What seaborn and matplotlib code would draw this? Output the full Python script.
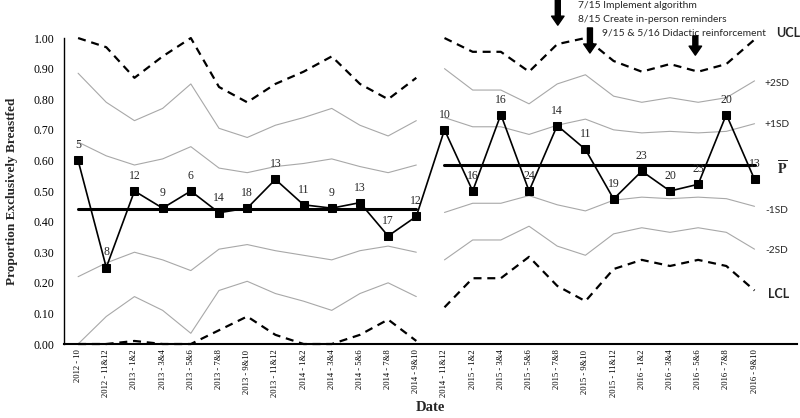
import numpy as np
import pandas as pd
import matplotlib
matplotlib.use("Agg")
import matplotlib.pyplot as plt
import seaborn as sns

# ---------------- data ----------------
categories = ["2012 - 10", "2012 - 11&12", "2013 - 1&2", "2013 - 3&4", "2013 - 5&6",
              "2013 - 7&8", "2013 - 9&10", "2013 - 11&12", "2014 - 1&2", "2014 - 3&4",
              "2014 - 5&6", "2014 - 7&8", "2014 - 9&10", "2014 - 11&12", "2015 - 1&2",
              "2015 - 3&4", "2015 - 5&6", "2015 - 7&8", "2015 - 9&10", "2015 - 11&12",
              "2016 - 1&2", "2016 - 3&4", "2016 - 5&6", "2016 - 7&8", "2016 - 9&10"]
sample_size = [5, 8, 12, 9, 6, 14, 18, 13, 11, 9, 13, 17, 12,
               10, 16, 16, 24, 14, 11, 19, 23, 20, 23, 20, 13]
proportion = [0.60, 0.25, 0.50, 0.444, 0.50, 0.429, 0.444, 0.538, 0.455, 0.444, 0.462, 0.353, 0.417,
              0.70, 0.50, 0.75, 0.50, 0.714, 0.636, 0.474, 0.565, 0.50, 0.522, 0.75, 0.538]

phase1_mean = 0.44
phase2_mean = 0.585

ucl_1 = [1.00, 0.97, 0.87, 0.94, 1.00, 0.84, 0.79, 0.85, 0.89, 0.94, 0.85, 0.80, 0.87]
p2sd_1 = [0.885, 0.79, 0.73, 0.77, 0.85, 0.705, 0.675, 0.715, 0.74, 0.77, 0.715, 0.68, 0.73]
p1sd_1 = [0.66, 0.615, 0.585, 0.605, 0.645, 0.575, 0.56, 0.58, 0.59, 0.605, 0.58, 0.56, 0.585]
m1sd_1 = [0.22, 0.265, 0.30, 0.275, 0.24, 0.31, 0.325, 0.305, 0.29, 0.275, 0.305, 0.32, 0.30]
m2sd_1 = [0.00, 0.09, 0.155, 0.11, 0.035, 0.175, 0.205, 0.165, 0.14, 0.11, 0.165, 0.20, 0.155]
lcl_1 = [0.00, 0.00, 0.01, 0.00, 0.00, 0.045, 0.09, 0.03, 0.00, 0.00, 0.03, 0.08, 0.01]

ucl_2 = [1.00, 0.955, 0.955, 0.89, 0.98, 1.00, 0.925, 0.89, 0.915, 0.89, 0.915, 0.995]
p2sd_2 = [0.90, 0.83, 0.83, 0.785, 0.85, 0.88, 0.81, 0.79, 0.805, 0.79, 0.805, 0.86]
p1sd_2 = [0.74, 0.71, 0.71, 0.685, 0.715, 0.735, 0.70, 0.69, 0.695, 0.69, 0.695, 0.72]
m1sd_2 = [0.43, 0.46, 0.46, 0.485, 0.455, 0.435, 0.47, 0.48, 0.475, 0.48, 0.475, 0.45]
m2sd_2 = [0.275, 0.34, 0.34, 0.385, 0.32, 0.29, 0.36, 0.38, 0.365, 0.38, 0.365, 0.31]
lcl_2 = [0.12, 0.215, 0.215, 0.285, 0.19, 0.14, 0.245, 0.275, 0.255, 0.275, 0.255, 0.175]

events = ["7/15 Implement algorithm", "8/15 Create in-person reminders",
          "9/15 & 5/16 Didactic reinforcement"]

# ---------------- style ----------------
sns.set_theme(style="white")
plt.rcParams["font.family"] = ["Liberation Serif", "DejaVu Serif"]
plt.rcParams["mathtext.fontset"] = "stix"

fig = plt.figure(figsize=(8, 4.18), dpi=100)
ax = fig.add_axes([0.08, 0.177, 0.916, 0.732])

pos = np.arange(len(categories))
n1 = len(ucl_1)
x1 = pos[:n1]
x2 = pos[n1:]

df_main = pd.DataFrame({"x": pos, "p": proportion, "n": sample_size})
df1 = pd.DataFrame({"x": x1, "ucl": ucl_1, "p2": p2sd_1, "p1": p1sd_1,
                    "m1": m1sd_1, "m2": m2sd_1, "lcl": lcl_1, "mean": phase1_mean})
df2 = pd.DataFrame({"x": x2, "ucl": ucl_2, "p2": p2sd_2, "p1": p1sd_2,
                    "m1": m1sd_2, "m2": m2sd_2, "lcl": lcl_2, "mean": phase2_mean})

gray = "#a8a8a8"
dash = (0, (3.6, 2.6))
for d in (df1, df2):
    for col in ("p2", "p1", "m1", "m2"):
        sns.lineplot(data=d, x="x", y=col, ax=ax, color=gray, lw=0.8, clip_on=False)
    for col in ("ucl", "lcl"):
        sns.lineplot(data=d, x="x", y=col, ax=ax, color="black", lw=1.6,
                     linestyle=dash, clip_on=False)
    sns.lineplot(data=d, x="x", y="mean", ax=ax, color="black", lw=2.2)

sns.lineplot(data=df_main, x="x", y="p", ax=ax, color="black", lw=1.2,
             marker="s", markersize=5.5, markeredgecolor="black", clip_on=False, zorder=5)

for xi, yi, ni in zip(df_main["x"], df_main["p"], df_main["n"]):
    ax.annotate(str(ni), (xi, yi), xytext=(0, 6.5), textcoords="offset points",
                ha="center", va="bottom", fontsize=8.5, zorder=6)

# ---------------- axes ----------------
ax.set_xlim(-0.5, len(categories) + 0.5)
ax.set_ylim(0, 1)
ax.set_yticks(np.arange(0, 1.01, 0.1))
ax.set_yticklabels([f"{v:.2f}" for v in np.arange(0, 1.01, 0.1)], fontsize=8.5)
ax.set_xticks(pos)
ax.set_xticklabels(categories, rotation=90, fontsize=6.2, va="top")
ax.set_xticks(np.arange(-0.5, len(categories) + 1), minor=True)
ax.tick_params(axis="x", which="major", length=0, pad=4)
ax.tick_params(axis="x", which="minor", length=4, width=1, direction="inout", color="black")
ax.tick_params(axis="y", which="major", length=4, width=1, direction="out", color="black", pad=3)
ax.tick_params(axis="both", colors="black")

for s in ("top", "right"):
    ax.spines[s].set_visible(False)
ax.spines["left"].set_linewidth(1.0)
ax.spines["left"].set_color("black")
ax.spines["bottom"].set_linewidth(1.5)
ax.spines["bottom"].set_color("black")

ax.set_ylabel("Proportion Exclusively Breastfed", fontsize=9.5, fontweight="bold")
ax.yaxis.set_label_coords(-0.063, 0.5)
ax.set_xlabel("Date", fontsize=10.5, fontweight="bold")
ax.xaxis.set_label_coords(0.5, -0.185)

# ---------------- right-side labels ----------------
sans = ["Lato", "DejaVu Sans"]
ax.text(25.2, 1.016, "UCL", ha="center", va="center", fontsize=9, fontweight="bold", family=sans)
ax.text(24.8, 0.853, "+2SD", ha="center", va="center", fontsize=7.3, family=sans)
ax.text(24.8, 0.719, "+1SD", ha="center", va="center", fontsize=7.3, family=sans)
ax.text(25.0, 0.575, r"$\mathbf{\overline{P}}$", ha="center", va="center", fontsize=10)
ax.text(24.8, 0.435, "-1SD", ha="center", va="center", fontsize=7.3, family=sans)
ax.text(24.8, 0.304, "-2SD", ha="center", va="center", fontsize=7.3, family=sans)
ax.text(24.85, 0.163, "LCL", ha="center", va="center", fontsize=9, fontweight="bold", family=sans)

# ---------------- intervention annotations ----------------
ax.text(17.73, 1.105, events[0], ha="left", va="center", fontsize=7.4, family=sans)
ax.text(17.73, 1.059, events[1], ha="left", va="center", fontsize=7.4, family=sans)
ax.text(18.58, 1.016, events[2], ha="left", va="center", fontsize=7.4, family=sans)

arrow_kw = dict(facecolor="black", edgecolor="black", width=3.6, headwidth=9,
                headlength=6.5, shrink=0)
ax.annotate("", xy=(17.02, 1.042), xytext=(17.02, 1.13), arrowprops=arrow_kw,
            annotation_clip=False)
ax.annotate("", xy=(18.16, 0.951), xytext=(18.16, 1.033), arrowprops=arrow_kw,
            annotation_clip=False)
ax.annotate("", xy=(21.9, 0.944), xytext=(21.9, 1.007), arrowprops=arrow_kw,
            annotation_clip=False)

fig.savefig("out.png", dpi=100)
